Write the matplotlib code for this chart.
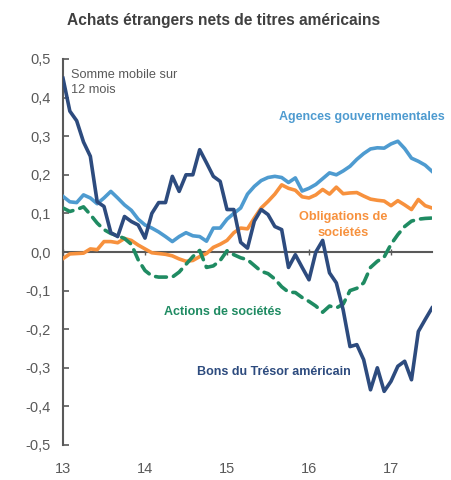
import numpy as np
import matplotlib
matplotlib.use("Agg")
import matplotlib.pyplot as plt

plt.rcParams['font.family'] = ['Liberation Sans', 'DejaVu Sans']

# Monthly data, Jan 2013 .. Jun 2017 (12-month rolling sums)
start_year = 2013
n_months = 55

treasury = [0.45, 0.365, 0.34, 0.285, 0.248, 0.13, 0.118, 0.05, 0.04, 0.092,
            0.079, 0.07, 0.036, 0.10, 0.128, 0.128, 0.196, 0.157, 0.20, 0.20,
            0.265, 0.231, 0.196, 0.183, 0.11, 0.11, 0.025, 0.01, 0.08, 0.11,
            0.097, 0.066, 0.058, -0.04, -0.007, -0.04, -0.072, 0.0, 0.03, -0.054,
            -0.08, -0.15, -0.245, -0.24, -0.279, -0.357, -0.30, -0.361, -0.335, -0.296,
            -0.283, -0.331, -0.206, -0.175, -0.145]

agencies = [0.144, 0.13, 0.128, 0.148, 0.14, 0.125, 0.14, 0.157, 0.14, 0.122,
            0.108, 0.085, 0.07, 0.062, 0.052, 0.04, 0.027, 0.04, 0.05, 0.042,
            0.04, 0.028, 0.062, 0.062, 0.085, 0.10, 0.114, 0.15, 0.17, 0.185,
            0.193, 0.196, 0.193, 0.18, 0.192, 0.158, 0.165, 0.175, 0.19, 0.205,
            0.20, 0.21, 0.222, 0.24, 0.255, 0.267, 0.27, 0.269, 0.28, 0.287,
            0.268, 0.243, 0.235, 0.225, 0.209]

corp_bonds = [-0.017, -0.005, -0.004, -0.003, 0.008, 0.006, 0.027, 0.027, 0.024, 0.035,
              0.03, 0.018, 0.008, -0.002, -0.004, -0.006, -0.01, -0.018, -0.024, -0.022,
              -0.012, -0.004, 0.012, 0.02, 0.03, 0.05, 0.062, 0.06, 0.088, 0.114,
              0.131, 0.15, 0.174, 0.165, 0.16, 0.143, 0.14, 0.148, 0.162, 0.15,
              0.168, 0.151, 0.153, 0.154, 0.145, 0.137, 0.134, 0.132, 0.12, 0.133,
              0.122, 0.11, 0.136, 0.12, 0.114]

equities = [0.114, 0.105, 0.11, 0.117, 0.097, 0.075, 0.058, 0.048, 0.042, 0.035,
            0.02, -0.02, -0.048, -0.062, -0.065, -0.065, -0.065, -0.052, -0.032, -0.012,
            0.004, -0.04, -0.036, -0.022, 0.003, -0.007, -0.015, -0.02, -0.035, -0.05,
            -0.056, -0.07, -0.09, -0.104, -0.105, -0.118, -0.128, -0.14, -0.156, -0.14,
            -0.145, -0.135, -0.10, -0.094, -0.08, -0.04, -0.024, -0.013, 0.02, 0.045,
            0.066, 0.08, 0.085, 0.087, 0.088]

year_ticks = [2013, 2014, 2015, 2016, 2017]
year_labels = ['13', '14', '15', '16', '17']
y_ticks = [-0.5, -0.4, -0.3, -0.2, -0.1, 0.0, 0.1, 0.2, 0.3, 0.4, 0.5]

c_navy = '#2D4B7E'
c_blue = '#4E9BD0'
c_orange = '#F7913D'
c_green = '#1F8B62'
c_axis = '#595959'
c_title = '#404040'

x = start_year + np.arange(n_months) / 12.0

fig = plt.figure(figsize=(4.51, 4.80), dpi=100)
ax = fig.add_axes([63/451, 1-445/480, (432-63)/451, (445-59)/480])

lw = 2.6
ax.plot(x, agencies, color=c_blue, lw=lw, solid_joinstyle='round', zorder=3)
ax.plot(x, corp_bonds, color=c_orange, lw=lw, solid_joinstyle='round', zorder=3)
ax.plot(x, equities, color=c_green, lw=lw, linestyle=(0, (3.0, 2.0)),
        dash_capstyle='round', zorder=3)
ax.plot(x, treasury, color=c_navy, lw=lw, solid_joinstyle='round', zorder=4)

ax.set_xlim(start_year, start_year + (n_months - 1) / 12.0)
ax.set_ylim(-0.5, 0.5)

for s in ['top', 'right']:
    ax.spines[s].set_visible(False)
ax.spines['left'].set_color(c_axis)
ax.spines['left'].set_linewidth(1.5)
ax.spines['bottom'].set_position(('data', 0))
ax.spines['bottom'].set_color(c_axis)
ax.spines['bottom'].set_linewidth(1.5)
ax.spines['bottom'].set_zorder(2)

ax.set_yticks(y_ticks)
ax.set_yticklabels([f'{v:.1f}'.replace('.', ',') for v in y_ticks])
ax.tick_params(axis='y', direction='in', length=4, width=1.2, color=c_axis,
               labelsize=10.5, labelcolor=c_axis, pad=9)
ax.set_xticks(year_ticks)
ax.tick_params(axis='x', direction='inout', length=4, width=1.0, color=c_axis,
               labelbottom=False)

sec = ax.secondary_xaxis('bottom')
sec.set_xticks(year_ticks)
sec.set_xticklabels(year_labels)
sec.spines['bottom'].set_visible(False)
sec.tick_params(axis='x', length=0, labelsize=10.5, labelcolor=c_axis, pad=12)

def dx(px):
    return start_year + (px - 63) / 82.0

def dy(py):
    return (252.3 - py) / 386.0

ax.text(dx(71), dy(69), 'Somme mobile sur\n12 mois', ha='left', va='top',
        fontsize=9.2, color=c_axis, linespacing=1.4)
ax.text(dx(362), dy(117), 'Agences gouvernementales', ha='center', va='center',
        fontsize=9, fontweight='bold', color=c_blue)
ax.text(dx(343), dy(225), 'Obligations de\nsociétés', ha='center', va='center',
        fontsize=9.2, fontweight='bold', color=c_orange, linespacing=1.45)
ax.text(dx(222.5), dy(312), 'Actions de sociétés', ha='center', va='center',
        fontsize=9.0, fontweight='bold', color=c_green)
ax.text(dx(273.5), dy(372), 'Bons du Trésor américain', ha='center', va='center',
        fontsize=9.0, fontweight='bold', color=c_navy)

fig.text(224/451, 1-20/480, 'Achats étrangers nets de titres américains',
         ha='center', va='center', fontsize=11.2, fontweight='bold', color=c_title)

fig.savefig('out.png', dpi=100)
